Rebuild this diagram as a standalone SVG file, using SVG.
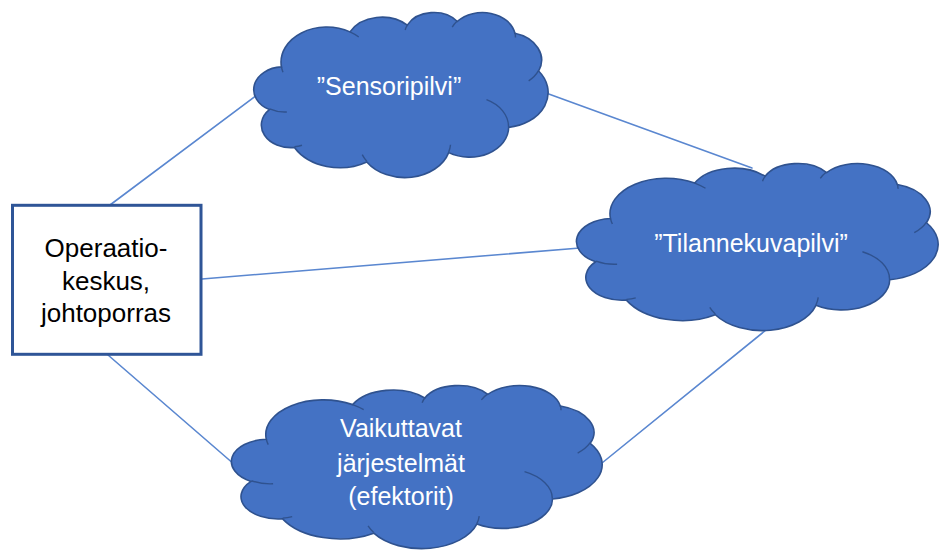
<svg xmlns="http://www.w3.org/2000/svg" xmlns:xlink="http://www.w3.org/1999/xlink" width="940" height="550" viewBox="0 0 940 550">
  <defs>
    <style>
      .link { stroke: #5A87D0; stroke-width: 1.6; fill: none; stroke-linecap: round; }
      .cloud-body { fill: #4472C4; stroke: #2F528F; stroke-width: 1.6; }
      .cloud-fold { fill: none; stroke: #2F528F; stroke-width: 1.4; }
      .cloud-text { font-family: "Liberation Sans", Arial, sans-serif; font-size: 25px; fill: #FFFFFF; text-anchor: middle; }
      .box { fill: #FFFFFF; stroke: #2F5597; stroke-width: 3; }
      .box-text { font-family: "Liberation Sans", Arial, sans-serif; font-size: 26px; fill: #000000; text-anchor: middle; }
    </style>
    <!-- Cloud outline in a 43200 x 43200 unit square -->
    <path id="cloud-outline" vector-effect="non-scaling-stroke"
      d="M3900,14370 A6753,9190 0 0 1 14005,5202 A5333,7267 0 0 1 22456,3431 A4365,5945 0 0 1 29833,2479 A4857,6595 0 0 1 38318,5575 A5333,7273 0 0 1 41818,15458 A6775,9220 0 0 1 37404,30201 A5785,7867 0 0 1 28556,36812 A6752,9215 0 0 1 16481,39264 A7720,10543 0 0 1 5806,35471 A4360,5918 0 0 1 2114,25550 A4345,5945 0 0 1 3900,14370 Z"/>
    <!-- Inner fold lines of the cloud -->
    <path id="cloud-folds" vector-effect="non-scaling-stroke"
      d="M4693,26177 A4345,5945 0 0 1 2160,25380 M6928,34899 A4360,5918 0 0 1 5820,35280 M16478,39090 A6752,9215 0 0 1 15810,37349 M28827,34751 A6752,9215 0 0 1 28561,36660 M34129,22954 A5785,7867 0 0 1 37381,30090 M41798,15354 A5333,7273 0 0 1 40350,18030 M38324,5426 A4857,6595 0 0 1 38401,6690 M29078,3952 A4857,6595 0 0 1 29820,2339 M22141,4720 A4365,5945 0 0 1 22500,3331 M14000,5192 A6753,9190 0 0 1 15299,6539 M4127,15789 A6753,9190 0 0 1 3900,14371"/>
  </defs>

  <rect width="940" height="550" fill="#FFFFFF"/>

  <!-- Connectors -->
  <g id="connectors">
    <line class="link" x1="110" y1="205" x2="257" y2="95"/>
    <line class="link" x1="546" y1="93" x2="752" y2="168"/>
    <line class="link" x1="202" y1="279" x2="580" y2="248"/>
    <line class="link" x1="108" y1="355" x2="235" y2="465"/>
    <line class="link" x1="602" y1="463" x2="766" y2="330"/>
  </g>

  <!-- Operations centre box -->
  <g id="node-operaatiokeskus">
    <rect class="box" x="12.5" y="205.3" width="188.5" height="149"/>
    <text class="box-text" x="106" y="257">Operaatio-</text>
    <text class="box-text" x="106" y="290">keskus,</text>
    <text class="box-text" x="106" y="322">johtoporras</text>
  </g>

  <!-- Sensor cloud -->
  <g id="node-sensoripilvi">
    <g transform="translate(255 12) scale(0.0067824 0.0038194)">
      <use xlink:href="#cloud-outline" class="cloud-body"/>
      <use xlink:href="#cloud-folds" class="cloud-fold"/>
    </g>
    <text class="cloud-text" x="389" y="95">”Sensoripilvi”</text>
  </g>

  <!-- Situation picture cloud -->
  <g id="node-tilannekuvapilvi">
    <g transform="translate(578 163) scale(0.0083333 0.0038657)">
      <use xlink:href="#cloud-outline" class="cloud-body"/>
      <use xlink:href="#cloud-folds" class="cloud-fold"/>
    </g>
    <text class="cloud-text" x="751" y="252">”Tilannekuvapilvi”</text>
  </g>

  <!-- Effector cloud -->
  <g id="node-efektorit">
    <g transform="translate(233 385) scale(0.0085417 0.0037731)">
      <use xlink:href="#cloud-outline" class="cloud-body"/>
      <use xlink:href="#cloud-folds" class="cloud-fold"/>
    </g>
    <text class="cloud-text" x="401" y="437">Vaikuttavat</text>
    <text class="cloud-text" x="401" y="472">järjestelmät</text>
    <text class="cloud-text" x="401" y="505">(efektorit)</text>
  </g>
</svg>
